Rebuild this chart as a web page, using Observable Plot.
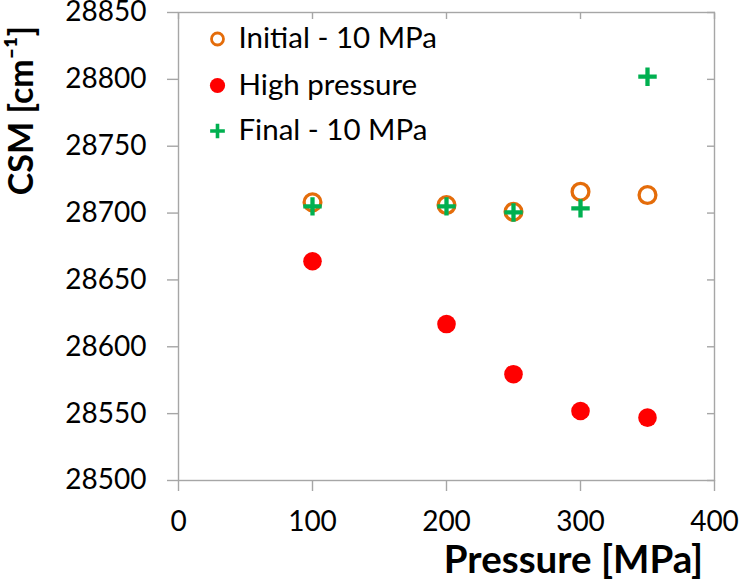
<!DOCTYPE html>
<html>
<head>
<meta charset="utf-8">
<script src="https://cdn.jsdelivr.net/npm/d3@7"></script>
<script src="https://cdn.jsdelivr.net/npm/@observablehq/plot@0.6"></script>
<style>
  html, body { margin: 0; padding: 0; background: #fff; }
  #chart { width: 740px; height: 588px; }
</style>
</head>
<body>
<div id="chart"></div>
<script>
// ---- data ----
const pressure = [100, 200, 250, 300, 350];
const initial10 = [28708, 28706, 28701, 28716, 28713.5];
const highPressure = [28664, 28617, 28579.5, 28552, 28547];
const final10 = [28705, 28705, 28700.5, 28703.5, 28802];
const seriesNames = ["Initial - 10 MPa", "High pressure", "Final - 10 MPa"];
const xTicks = [0, 100, 200, 300, 400];
const yTicks = [28500, 28550, 28600, 28650, 28700, 28750, 28800, 28850];
const xTitle = "Pressure [MPa]";
const yTitle = "CSM [cm\u207B\u00B9]";

const orange = "#E46C0A", red = "#FF0000", green = "#00B050", axisGray = "#A6A6A6";

const rows = (ys) => pressure.map((p, i) => ({p, v: ys[i]}));
const dInit = rows(initial10), dHigh = rows(highPressure), dFinal = rows(final10);

// legend rows
const legendMarks = [];
const legendDy = [26.5, 73, 118.5];
const legendStyles = [
  {symbol: "circle", r: 6, stroke: orange, strokeWidth: 2.8, fill: "none"},
  {symbol: "circle", r: 7.6, fill: red, stroke: "none"},
  {symbol: "plus", r: 4.8, stroke: green, strokeWidth: 3.6, fill: "none"}
];
seriesNames.forEach((name, i) => {
  legendMarks.push(Plot.dot([name], {frameAnchor: "top-left", dx: 39, dy: legendDy[i], ...legendStyles[i]}));
  legendMarks.push(Plot.text([name], {text: d => d, frameAnchor: "top-left", dx: 60, dy: legendDy[i], textAnchor: "start", lineAnchor: "middle", fontSize: 29.5, fill: "#000"}));
});

const chart = Plot.plot({
  width: 740,
  height: 588,
  marginLeft: 178,
  marginRight: 26,
  marginTop: 12,
  marginBottom: 108,
  style: {fontFamily: "Lato, 'Open Sans', sans-serif", fontSize: "28px", color: "#000", background: "#fff", overflow: "visible"},
  x: {domain: [0, 400]},
  y: {domain: [28500, 28850]},
  marks: [
    Plot.frame({stroke: axisGray, strokeWidth: 1.4}),
    Plot.axisY({ticks: yTicks, tickSize: 11, tickPadding: 21, stroke: axisGray, strokeWidth: 1.4, tickFormat: d => String(d), label: null, fontSize: 28}),
    Plot.axisY({anchor: "right", ticks: yTicks, tickSize: -8, stroke: axisGray, strokeWidth: 1.4, tickFormat: () => "", label: null}),
    Plot.axisX({ticks: xTicks, tickSize: 11, tickPadding: 20, stroke: axisGray, strokeWidth: 1.4, tickFormat: d => String(d), label: null, fontSize: 28}),
    Plot.axisX({anchor: "top", ticks: xTicks, tickSize: -6, stroke: axisGray, strokeWidth: 1.4, tickFormat: () => "", label: null}),
    Plot.dot(dInit, {x: "p", y: "v", r: 8.4, stroke: orange, strokeWidth: 3.3, fill: "none"}),
    Plot.dot(dHigh, {x: "p", y: "v", r: 9.3, fill: red, stroke: "none"}),
    Plot.dot(dFinal, {x: "p", y: "v", symbol: "plus", r: 6, stroke: green, strokeWidth: 4.3, fill: "none"}),
    ...legendMarks,
    Plot.text([xTitle], {text: d => d, frameAnchor: "bottom", dx: 127, dy: 80, lineAnchor: "middle", fontSize: 38.5, fontWeight: "bold", fill: "#000"}),
    Plot.text([yTitle], {text: d => d, frameAnchor: "top-left", dx: -156, dy: 98, rotate: -90, lineAnchor: "middle", textAnchor: "middle", fontSize: 34, fontWeight: "bold", fill: "#000"})
  ]
});
document.getElementById("chart").appendChild(chart);
</script>
</body>
</html>
